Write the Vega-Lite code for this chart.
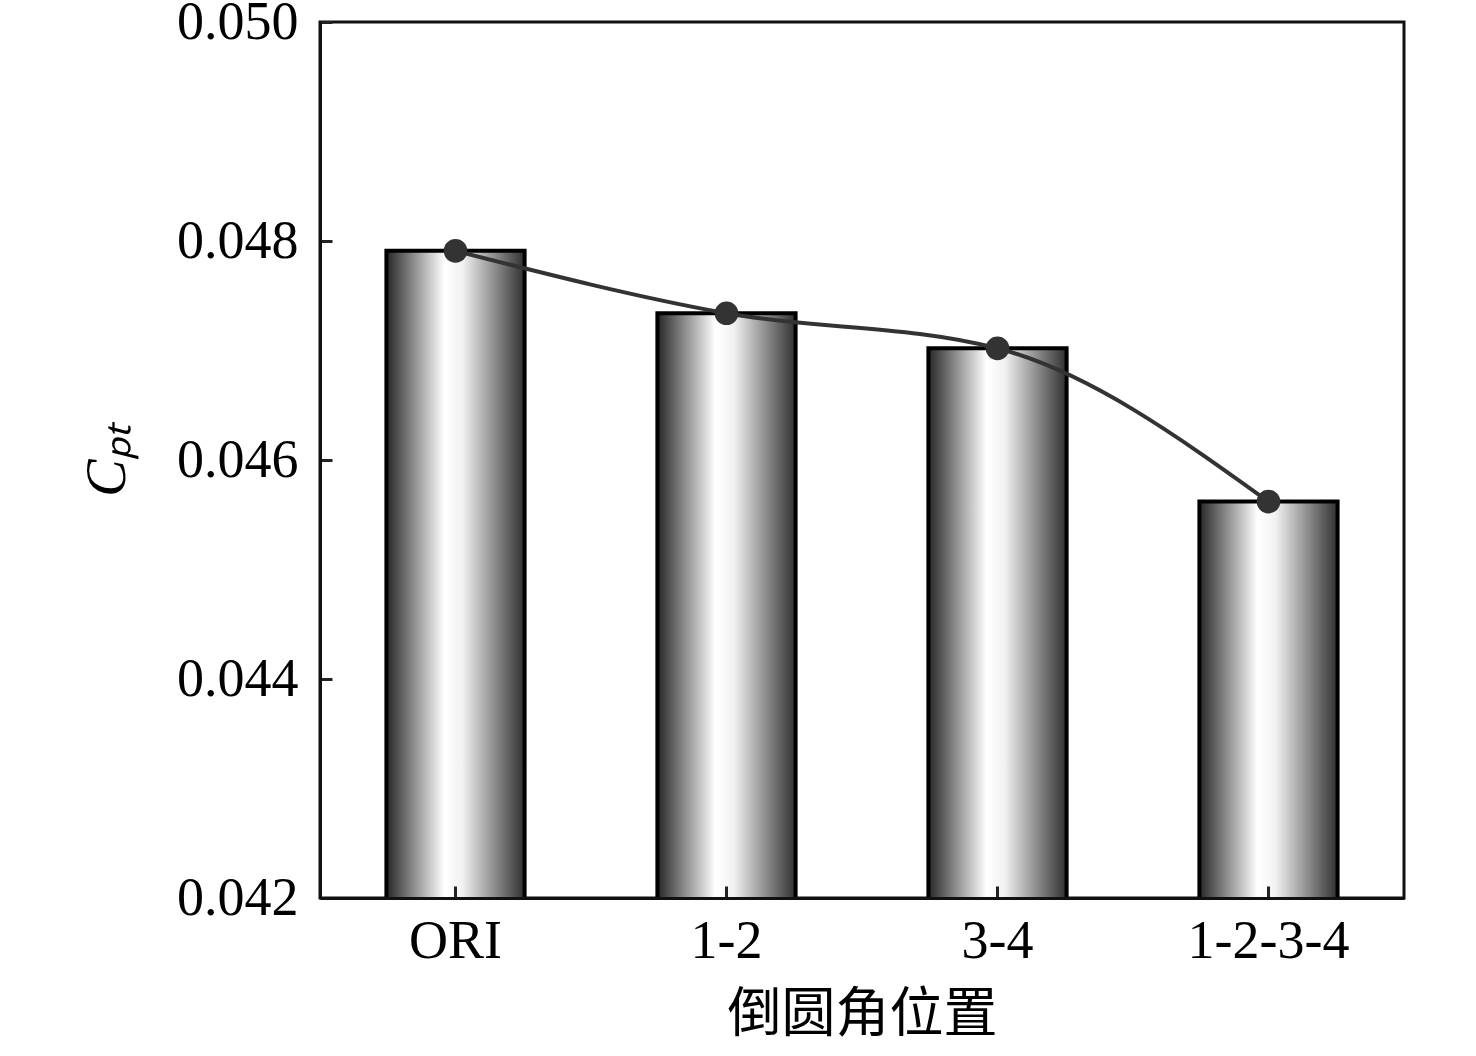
{
  "$schema": "https://vega.github.io/schema/vega-lite/v6.json",
  "width": 1084,
  "height": 876,
  "autosize": {"type": "none"},
  "padding": {"left": 320, "top": 22, "right": 72, "bottom": 158},
  "background": "white",
  "config": {
    "view": {"stroke": "#111", "strokeWidth": 3},
    "font": "Liberation Serif",
    "axis": {
      "grid": false,
      "domainColor": "#111",
      "domainWidth": 3,
      "tickColor": "#222",
      "tickWidth": 3,
      "labelFont": "Liberation Serif",
      "labelFontSize": 54,
      "labelColor": "black",
      "titleFont": "Liberation Serif, Noto Sans CJK SC",
      "titleFontSize": 52,
      "titleFontWeight": "normal",
      "titleColor": "black"
    }
  },
  "data": {
    "values": [
      {"position": "ORI", "Cpt": 0.04791},
      {"position": "1-2", "Cpt": 0.04734},
      {"position": "3-4", "Cpt": 0.04702},
      {"position": "1-2-3-4", "Cpt": 0.04562}
    ]
  },
  "encoding": {
    "x": {
      "field": "position",
      "type": "nominal",
      "sort": null,
      "scale": {"paddingInner": 0.49, "paddingOuter": 0.245},
      "axis": {
        "title": "倒圆角位置",
        "titleFont": "Noto Sans CJK SC",
        "titleFontSize": 54,
        "titlePadding": 20,
        "labelAngle": 0,
        "labelPadding": 28,
        "tickSize": -12,
        "zindex": 1
      }
    },
    "y": {
      "field": "Cpt",
      "type": "quantitative",
      "scale": {"domain": [0.042, 0.05], "zero": false},
      "axis": {
        "title": "Cₚₜ",
        "titleFontStyle": "italic",
        "titleFontSize": 56,
        "titlePadding": 40,
        "values": [0.042, 0.044, 0.046, 0.048, 0.05],
        "format": ".3f",
        "labelPadding": 34,
        "tickSize": -12
      }
    }
  },
  "layer": [
    {
      "mark": {
        "type": "bar",
        "clip": true,
        "stroke": "black",
        "strokeWidth": 4,
        "color": {
          "gradient": "linear",
          "x1": 0, "y1": 0, "x2": 1, "y2": 0,
          "stops": [
            {"offset": 0, "color": "#262626"},
            {"offset": 0.42, "color": "#ffffff"},
            {"offset": 0.55, "color": "#f2f2f2"},
            {"offset": 1, "color": "#303030"}
          ]
        }
      }
    },
    {
      "mark": {"type": "line", "interpolate": "monotone", "color": "#333333", "strokeWidth": 4}
    },
    {
      "mark": {"type": "point", "filled": true, "size": 560, "color": "#333333", "opacity": 1}
    }
  ]
}
